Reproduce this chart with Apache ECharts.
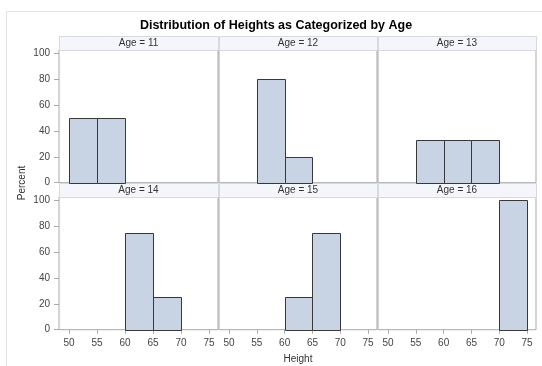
<!DOCTYPE html>
<html>
<head>
<meta charset="utf-8">
<script src="https://cdn.jsdelivr.net/npm/echarts@6/dist/echarts.min.js"></script>
<style>
  html, body { margin: 0; padding: 0; background: #fff; }
  #chart { width: 542px; height: 366px; }
</style>
</head>
<body>
<div id="chart"></div>
<script>
// Percent of students in each 5-inch height bin, by age
const ages = [11, 12, 13, 14, 15, 16];
const binStarts = [50, 55, 60, 65, 70];
const binWidth = 5;
const pctAge11 = [50, 50, 0, 0, 0];
const pctAge12 = [0, 80, 20, 0, 0];
const pctAge13 = [0, 33.33, 33.33, 33.33, 0];
const pctAge14 = [0, 0, 75, 25, 0];
const pctAge15 = [0, 0, 25, 75, 0];
const pctAge16 = [0, 0, 0, 0, 100];
const xTicks = [50, 55, 60, 65, 70, 75];
const yTicks = [0, 20, 40, 60, 80, 100];

const percents = [pctAge11, pctAge12, pctAge13, pctAge14, pctAge15, pctAge16];

const chart = echarts.init(document.getElementById('chart'), null, { renderer: 'canvas' });

const FONT = 'Liberation Sans, Arial, sans-serif';
const colLeft = [59, 219, 378];
const colWidth = [159, 158, 158];
const rowTop = [50, 197];
const rowHeight = [132.7, 132.7];
const headerH = 14;

const grids = [], xAxes = [], yAxes = [], series = [], graphics = [];

ages.forEach((age, k) => {
  const col = k % 3, row = Math.floor(k / 3);
  grids.push({
    left: colLeft[col], top: rowTop[row], width: colWidth[col], height: rowHeight[row],
    show: true, borderColor: '#a9a9a9', borderWidth: 1, backgroundColor: '#fff'
  });
  xAxes.push({
    type: 'value', gridIndex: k, min: 48.2, max: 76.6,
    axisLine: { show: false },
    splitLine: { show: false },
    axisTick: { show: row === 1, customValues: xTicks, length: 4, lineStyle: { color: '#aaa' } },
    axisLabel: { show: row === 1, customValues: xTicks, color: '#444', fontSize: 10, fontFamily: FONT, margin: 9 }
  });
  yAxes.push({
    type: 'value', gridIndex: k, min: 0, max: 102.6,
    axisLine: { show: false },
    splitLine: { show: false },
    axisTick: { show: col === 0, customValues: yTicks, length: 5, lineStyle: { color: '#aaa' } },
    axisLabel: { show: col === 0, customValues: yTicks, color: '#444', fontSize: 10, fontFamily: FONT, margin: 9 }
  });
  const data = [];
  binStarts.forEach((b, i) => {
    if (percents[k][i] > 0) data.push([b, b + binWidth, percents[k][i]]);
  });
  series.push({
    type: 'custom', xAxisIndex: k, yAxisIndex: k,
    encode: { x: [0, 1], y: 2 },
    data: data,
    renderItem: function (params, api) {
      const topLeft = api.coord([api.value(0), api.value(2)]);
      const botRight = api.coord([api.value(1), 0]);
      const x0 = Math.round(topLeft[0]) + 0.5, x1 = Math.round(botRight[0]) + 0.5;
      const y0 = Math.round(topLeft[1]) + 0.5, y1 = Math.round(botRight[1]) + 0.5;
      return {
        type: 'rect',
        shape: { x: x0, y: y0, width: x1 - x0, height: y1 - y0 },
        style: { fill: '#c8d4e4', stroke: '#383838', lineWidth: 1 }
      };
    }
  });
  // panel header strip
  graphics.push({
    type: 'rect',
    shape: { x: colLeft[col] + 0.5, y: rowTop[row] - headerH + 0.5, width: colWidth[col], height: headerH },
    style: { fill: '#f4f6fb', stroke: '#d6d9de', lineWidth: 1 },
    silent: true
  });
  graphics.push({
    type: 'text',
    x: colLeft[col] + colWidth[col] / 2, y: rowTop[row] - headerH / 2,
    style: { text: 'Age = ' + age, fill: '#333', font: '10px ' + FONT, align: 'center', verticalAlign: 'middle' },
    silent: true
  });
});

// outer frame
graphics.unshift({
  type: 'rect',
  shape: { x: 6.5, y: 11.5, width: 600, height: 400 },
  style: { fill: 'none', stroke: '#e4e4e4', lineWidth: 1 },
  silent: true
});
graphics.push({
  type: 'text', x: 276, y: 26,
  style: { text: 'Distribution of Heights as Categorized by Age', fill: '#000', font: 'bold 12.5px ' + FONT, align: 'center', verticalAlign: 'middle' },
  silent: true
});
graphics.push({
  type: 'text', x: 298, y: 359,
  style: { text: 'Height', fill: '#333', font: '10px ' + FONT, align: 'center', verticalAlign: 'middle' },
  silent: true
});
graphics.push({
  type: 'text', x: 22, y: 183, rotation: Math.PI / 2,
  style: { text: 'Percent', fill: '#333', font: '10px ' + FONT, align: 'center', verticalAlign: 'middle' },
  silent: true
});

chart.setOption({
  animation: false,
  grid: grids,
  xAxis: xAxes,
  yAxis: yAxes,
  series: series,
  graphic: { elements: graphics }
});
</script>
</body>
</html>
